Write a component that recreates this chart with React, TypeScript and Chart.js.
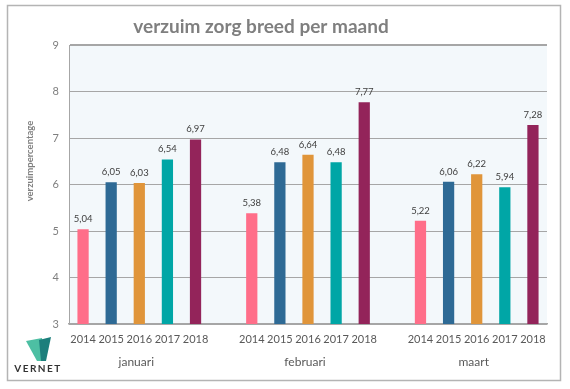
import React, { useEffect, useRef } from "react";
import { Chart, registerables } from "chart.js";

Chart.register(...registerables);

const years = ["2014", "2015", "2016", "2017", "2018"];
const months = ["januari", "februari", "maart"];
const januari = [5.04, 6.05, 6.03, 6.54, 6.97];
const februari = [5.38, 6.48, 6.64, 6.48, 7.77];
const maart = [5.22, 6.06, 6.22, 5.94, 7.28];
const yearColors = ["#FF6E89", "#2E6A95", "#E0953A", "#00A6A6", "#93245A"];
const yTicks = [3, 4, 5, 6, 7, 8, 9];
const yTitle = "verzuimpercentage";
const chartTitle = "verzuim zorg breed per maand";

const groups = [januari, februari, maart];
// build category table with an empty slot between month groups
const labels: string[] = [];
const values: (number | null)[] = [];
const colors: string[] = [];
const groupIndex: number[][] = [];
groups.forEach((g, gi) => {
  if (gi > 0) {
    labels.push("");
    values.push(null);
    colors.push("rgba(0,0,0,0)");
  }
  const idx: number[] = [];
  g.forEach((v, i) => {
    idx.push(labels.length);
    labels.push(years[i]);
    values.push(v);
    colors.push(yearColors[i]);
  });
  groupIndex.push(idx);
});

const FONT = "Lato, 'Open Sans', sans-serif";

const decorPlugin = {
  id: "decor",
  beforeDraw(chart: any) {
    const { ctx, chartArea } = chart;
    ctx.save();
    ctx.fillStyle = "#FFFFFF";
    ctx.fillRect(0, 0, chart.width, chart.height);
    ctx.fillStyle = "#F3F8FB";
    ctx.fillRect(chartArea.left, chartArea.top, chartArea.right - chartArea.left, chartArea.bottom - chartArea.top);
    ctx.restore();
  },
  afterDraw(chart: any) {
    const { ctx, scales } = chart;
    ctx.save();
    // outer border
    ctx.strokeStyle = "#B4B4B4";
    ctx.lineWidth = 1.5;
    ctx.strokeRect(7.5, 5.5, 553, 375);
    // title
    ctx.fillStyle = "#7F7F7F";
    ctx.font = `bold 19px ${FONT}`;
    ctx.textAlign = "center";
    ctx.textBaseline = "middle";
    ctx.fillText(chartTitle, 261, 27);
    // y axis title
    ctx.save();
    ctx.translate(30, 161);
    ctx.rotate(-Math.PI / 2);
    ctx.font = `bold 9.5px ${FONT}`;
    ctx.fillText(yTitle, 0, 0);
    ctx.restore();
    // month labels
    ctx.fillStyle = "#595959";
    ctx.font = `12px ${FONT}`;
    groupIndex.forEach((idx, gi) => {
      const x0 = scales.x.getPixelForValue(idx[0]);
      const x1 = scales.x.getPixelForValue(idx[idx.length - 1]);
      ctx.fillText(months[gi], (x0 + x1) / 2 - 3, 362);
    });
    // logo
    ctx.fillStyle = "#4DBFA3";
    ctx.beginPath();
    ctx.moveTo(26, 341);
    ctx.lineTo(42, 338);
    ctx.lineTo(45, 361);
    ctx.lineTo(37, 361);
    ctx.closePath();
    ctx.fill();
    ctx.fillStyle = "#1C7F7C";
    ctx.beginPath();
    ctx.moveTo(39, 340);
    ctx.lineTo(51, 337);
    ctx.lineTo(46, 361);
    ctx.lineTo(41, 361);
    ctx.closePath();
    ctx.fill();
    ctx.fillStyle = "#333333";
    ctx.font = `bold 10px ${FONT}`;
    (ctx as any).letterSpacing = "1.5px";
    ctx.fillText("VERNET", 38, 369);
    ctx.restore();
  },
  afterDatasetsDraw(chart: any) {
    const { ctx } = chart;
    const meta = chart.getDatasetMeta(0);
    ctx.save();
    ctx.fillStyle = "#404040";
    ctx.font = `9.5px ${FONT}`;
    ctx.textAlign = "center";
    ctx.textBaseline = "middle";
    meta.data.forEach((bar: any, i: number) => {
      const v = values[i];
      if (v == null) return;
      ctx.fillText(v.toFixed(2).replace(".", ","), bar.x, bar.y - 10);
    });
    ctx.restore();
  },
};

export default function App() {
  const ref = useRef<HTMLCanvasElement>(null);
  useEffect(() => {
    const chart = new Chart(ref.current!, {
      type: "bar",
      data: {
        labels,
        datasets: [
          {
            data: values as any,
            backgroundColor: colors,
            barPercentage: 0.4,
            categoryPercentage: 1,
          },
        ],
      },
      plugins: [decorPlugin],
      options: {
        responsive: false,
        animation: false,
        layout: { padding: { left: 18, top: 45, right: 23, bottom: 0 } },
        plugins: { legend: { display: false }, tooltip: { enabled: false }, title: { display: false } },
        scales: {
          x: {
            afterFit: (s: any) => {
              s.height = 65;
            },
            grid: { display: false },
            border: { display: true, color: "#A6A6A6", width: 1.5 },
            ticks: {
              autoSkip: false,
              maxRotation: 0,
              padding: 1,
              color: "#595959",
              font: { family: FONT, size: 11 },
            },
          },
          y: {
            min: 3,
            max: 9,
            afterFit: (s: any) => {
              s.width = 51;
            },
            afterBuildTicks: (s: any) => {
              s.ticks = yTicks.map((v) => ({ value: v }));
            },
            grid: {
              drawTicks: false,
              color: "#A6A6A6",
              lineWidth: (c: any) => (c.tick && c.tick.value === 9 ? 2 : 1),
            },
            border: { display: true, color: "#A6A6A6", width: 1 },
            ticks: {
              padding: 10,
              color: "#7F7F7F",
              font: { family: FONT, size: 11 },
            },
          },
        },
      },
    });
    return () => chart.destroy();
  }, []);
  return (
    <div style={{ position: "fixed", left: 0, top: 0, width: 570, height: 389 }}>
      <canvas ref={ref} width={570} height={389} />
    </div>
  );
}
